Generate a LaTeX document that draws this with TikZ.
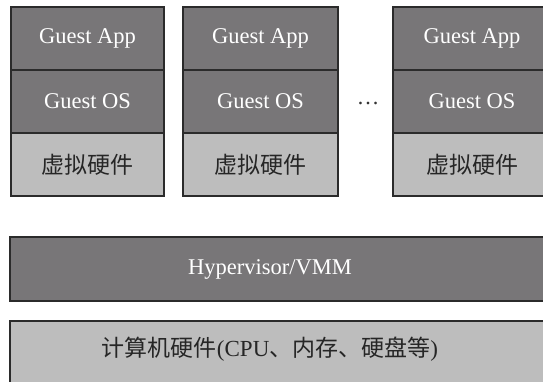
\documentclass[tikz,border=0pt]{standalone}
\usepackage{fontspec}
\setmainfont{Liberation Serif}
\newfontfamily\cjk{Noto Sans CJK SC}
\usetikzlibrary{positioning}
\definecolor{layerdark}{HTML}{787678}
\definecolor{layerlight}{HTML}{BDBDBD}
\definecolor{edgeline}{HTML}{2B2B2B}

\begin{document}
\begin{tikzpicture}[x=1pt,y=-1pt,node distance=0pt,
  every node/.style={outer sep=0pt,inner sep=0pt},
  layer/.style={draw=edgeline,line width=2.5pt,minimum height=63pt},
  darklayer/.style={layer,fill=layerdark},
  lightlayer/.style={layer,fill=layerlight},
  latintext/.style={text=white,font=\fontsize{22.5}{27}\selectfont},
  cjktext/.style={text=black!85,font=\fontsize{23}{27}\selectfont\cjk}
  ]
\clip (0,0) rectangle (543,382);

% guest VM 1
\node[darklayer,latintext,minimum width=153pt,anchor=north west] (app1) at (11,7) {Guest App};
\node[darklayer,latintext,minimum width=153pt] (os1) [below=of app1] {Guest OS};
\node[lightlayer,cjktext,minimum width=153pt] (vhw1) [below=of os1] {虚拟硬件};

% guest VM 2
\node[darklayer,latintext,minimum width=155pt,anchor=north west] (app2) at (183,7) {Guest App};
\node[darklayer,latintext,minimum width=155pt] (os2) [below=of app2] {Guest OS};
\node[lightlayer,cjktext,minimum width=155pt] (vhw2) [below=of os2] {虚拟硬件};

\node[text=black!80,font=\fontsize{22.5}{27}\selectfont] (dots) at (368,103) {…};

% guest VM n
\node[darklayer,latintext,minimum width=158pt,anchor=north west] (app3) at (393,7) {Guest App};
\node[darklayer,latintext,minimum width=158pt] (os3) [below=of app3] {Guest OS};
\node[lightlayer,cjktext,minimum width=158pt] (vhw3) [below=of os3] {虚拟硬件};

% hypervisor and host hardware
\node[darklayer,minimum width=560pt,minimum height=64pt,anchor=north west] (hv) at (10,237) {};
\node[latintext] (hvlabel) at (270,269) {Hypervisor/VMM};
\node[lightlayer,minimum width=560pt,minimum height=64pt,anchor=north west] (host) at (10,321) {};
\node[cjktext] (hostlabel) at (270,349) {计算机硬件{\rmfamily(CPU}、内存、硬盘等{\rmfamily)}};
\end{tikzpicture}
\end{document}
